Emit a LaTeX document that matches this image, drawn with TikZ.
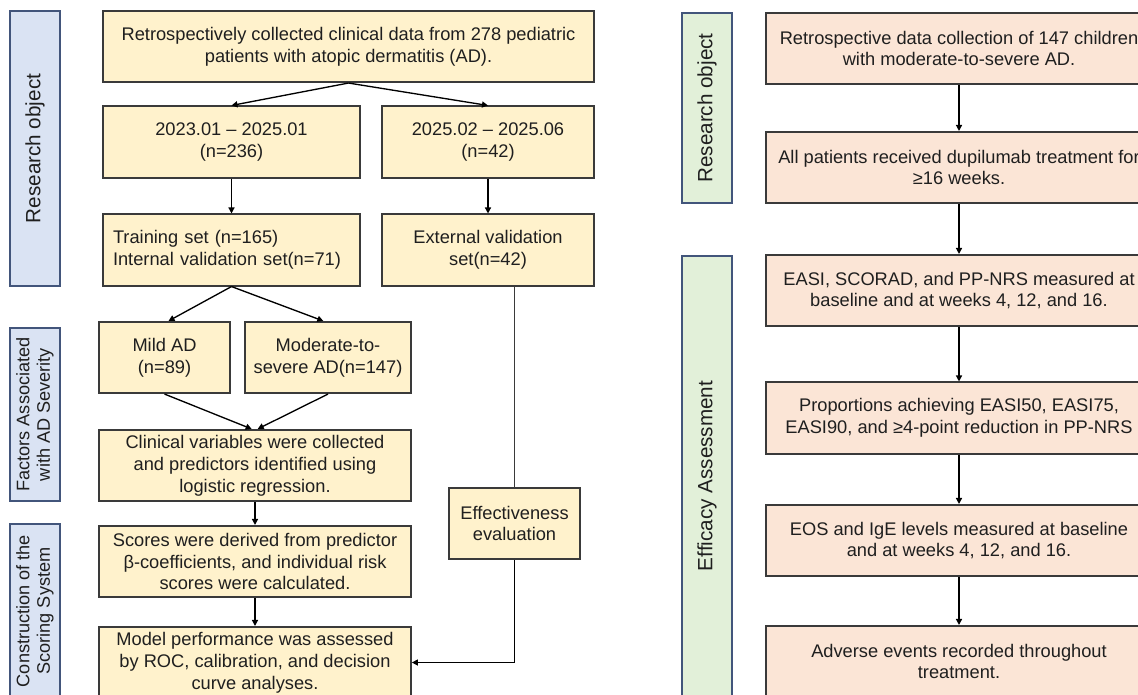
\documentclass[tikz,border=0pt]{standalone}
\usepackage{fontspec}
\setmainfont{Liberation Sans}
\usetikzlibrary{arrows.meta}
\definecolor{boxyellow}{HTML}{FFF2CC}
\definecolor{boxorange}{HTML}{FBE5D6}
\definecolor{sideblue}{HTML}{DAE3F3}
\definecolor{sidegreen}{HTML}{E2F0D9}
\definecolor{sideline}{HTML}{42557B}
\definecolor{boxline}{HTML}{3A3A3A}
\definecolor{txt}{HTML}{1F1F1F}
\begin{document}
\begin{tikzpicture}[x=0.75pt,y=-0.75pt] % 1 unit = 1 px of the figure
\tikzstyle{stepbox} = [draw=boxline, line width=1.3pt, fill=boxyellow, text=txt, align=center, inner sep=2pt, minimum height=53.5pt, font=\fontsize{13.7}{16.4}\selectfont] % left flow boxes
\tikzstyle{evalbox} = [stepbox, fill=boxorange, minimum width=289.5pt] % right flow boxes
\tikzstyle{sidebar} = [draw=sideline, line width=1.3pt, rotate=90, text=txt, align=center, minimum height=37.5pt, inner sep=2pt, font=\fontsize{15.5}{18.6}\selectfont] % stage labels on the side
\tikzstyle{sidesmall} = [sidebar, font=\fontsize{13.6}{15.4}\selectfont] % two-line stage labels
\tikzstyle{flow} = [line width=1pt, draw=black, -{Triangle[length=4.5pt,width=4.5pt]}] % arrows
\tikzstyle{link} = [line width=1pt, draw=boxline] % plain line
\useasboundingbox (0,0) rectangle (1138,694);
\clip (0,0) rectangle (1138,694);
% left: stages
\node[sidebar, fill=sideblue, minimum width=206.25pt] (stobj) at (35,148.5) {Research object};
\node[sidesmall, fill=sideblue, minimum width=129.75pt] (stfac) at (35,414.5) {Factors Associated\\with AD Severity};
\node[sidesmall, fill=sideblue, minimum width=130.5pt] (stscore) at (35,611) {Construction of the\\Scoring System};
% left: flow
\node[stepbox, minimum width=368.25pt] (collect) at (348.5,46.5) {Retrospectively collected clinical data from 278 pediatric\\patients with atopic dermatitis (AD).};
\node[stepbox, minimum width=192.75pt] (early) at (231.5,142) {2023.01 – 2025.01\\(n=236)};
\node[stepbox, minimum width=159pt] (late) at (488,142) {2025.02 – 2025.06\\(n=42)};
\node[stepbox, align=left, inner xsep=7.5pt, text width=177.75pt] (train) at (231.5,250) {Training set (n=165)\\Internal validation set(n=71)};
\node[stepbox, minimum width=159pt] (extval) at (488,250) {External validation\\set(n=42)};
\node[stepbox, minimum width=98.25pt] (mild) at (164.5,357.5) {Mild AD\\(n=89)};
\node[stepbox, minimum width=124.5pt] (severe) at (328,357.5) {Moderate-to-\\severe AD(n=147)};
\node[stepbox, minimum width=234pt] (clinvar) at (255,465.5) {Clinical variables were collected\\and predictors identified using\\logistic regression.};
\node[stepbox, minimum width=234pt] (scores) at (255,561.5) {Scores were derived from predictor\\β-coefficients, and individual risk\\scores were calculated.};
\node[stepbox, minimum width=234pt] (perf) at (255,662.5) {Model performance was assessed\\by ROC, calibration, and decision\\curve analyses.};
\node[stepbox, minimum width=98.25pt] (effect) at (514.5,523.5) {Effectiveness\\evaluation};
\draw[flow] (collect.south) -- (early.north);
\draw[flow] (collect.south) -- (late.north);
\draw[flow] (early) -- (train);
\draw[flow] (late) -- (extval);
\draw[flow] (train.south) -- ([xshift=3pt]mild.north);
\draw[flow] (train.south) -- ([xshift=-3.5pt]severe.north);
\draw[flow] (mild.south) -- ([xshift=-2.5pt]clinvar.north);
\draw[flow] (severe.south) -- ([xshift=2pt]clinvar.north);
\draw[flow] (clinvar) -- (scores);
\draw[flow] (scores) -- (perf);
\draw[link] (effect.north) -- (effect.north |- extval.south);
\draw[flow] (effect.south) |- (perf.east);
% right: stages
\node[sidebar, fill=sidegreen, minimum width=142.5pt] (stobjb) at (707,108) {Research object};
\node[sidebar, fill=sidegreen, minimum width=330pt] (steff) at (707,476) {Efficacy Assessment};
% right: flow
\node[evalbox] (cohort) at (959,48.5) {Retrospective data collection of 147 children\\with moderate-to-severe AD.};
\node[evalbox] (dupi) at (959,167.5) {All patients received dupilumab treatment for\\≥16 weeks.};
\node[evalbox] (scales) at (959,290.5) {EASI, SCORAD, and PP-NRS measured at\\baseline and at weeks 4, 12, and 16.};
\node[evalbox] (resp) at (959,418) {Proportions achieving EASI50, EASI75,\\EASI90, and ≥4-point reduction in PP-NRS};
\node[evalbox] (labs) at (959,540.5) {EOS and IgE levels measured at baseline\\and at weeks 4, 12, and 16.};
\node[evalbox] (adverse) at (959,661.5) {Adverse events recorded throughout\\treatment.};
\draw[flow] (cohort) -- (dupi);
\draw[flow] (dupi) -- (scales);
\draw[flow] (scales) -- (resp);
\draw[flow] (resp) -- (labs);
\draw[flow] (labs) -- (adverse);
\end{tikzpicture}
\end{document}
